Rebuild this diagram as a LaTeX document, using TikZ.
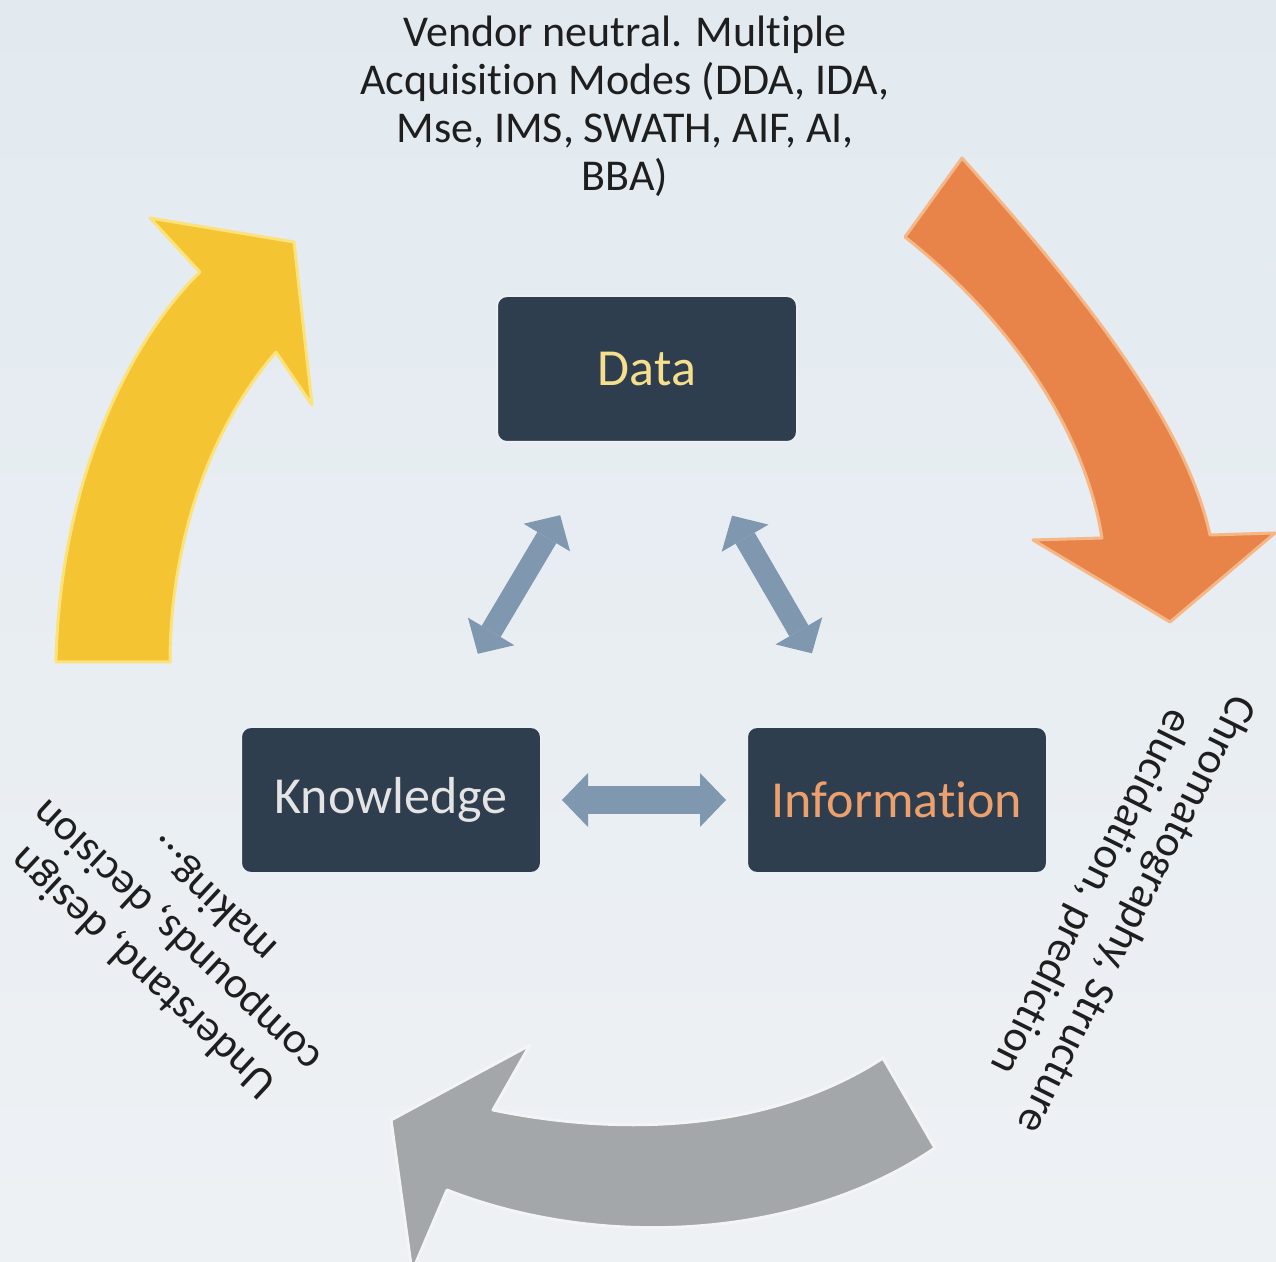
\documentclass[tikz,border=0pt]{standalone}
\usepackage{fontspec}
\setmainfont{Carlito}[Ligatures=NoCommon]
\usetikzlibrary{arrows.meta}

\definecolor{boxfill}{HTML}{2F3E4F}
\definecolor{datatxt}{HTML}{F6DF8C}
\definecolor{knowtxt}{HTML}{E4E4E4}
\definecolor{infotxt}{HTML}{EDA06C}
\definecolor{linkblue}{HTML}{7F97AF}
\definecolor{bgtop}{HTML}{E2EAF0}
\definecolor{bgbot}{HTML}{EEF1F4}
\definecolor{yelarrow}{HTML}{F4C433}
\definecolor{yeledge}{HTML}{FBE27A}
\definecolor{orarrow}{HTML}{E8844A}
\definecolor{oredge}{HTML}{F6B786}
\definecolor{grarrow}{HTML}{A4A7AA}
\definecolor{gredge}{HTML}{F2F4F6}
\definecolor{notetxt}{HTML}{1E1E1E}

\tikzset{
  stage/.style={draw=white!85!linkblue, line width=1pt, fill=boxfill, rounded corners=5pt,
    minimum width=150pt, minimum height=73pt, font=\fontsize{26pt}{30pt}\selectfont},
  note/.style={align=center, text=notetxt, font=\fontsize{22pt}{24pt}\selectfont},
  turned/.style={note, font=\fontsize{22pt}{25pt}\selectfont},
  link/.style={draw=linkblue, line width=11pt,
    arrows={Triangle[width=27pt,length=13pt,line width=0pt]-Triangle[width=27pt,length=13pt,line width=0pt]}},
  bigarrow/.style={line join=round, line width=1.5pt}
}

\begin{document}
\begin{tikzpicture}[x=0.5pt,y=-0.5pt]
  \useasboundingbox (0,0) rectangle (1276,1262);
  \shade[top color=bgtop, bottom color=bgbot] (0,0) rectangle (1276,1262);

  % cycle arrows
  \filldraw[bigarrow, fill=yelarrow, draw=yeledge]
    (56,662) .. controls (60,480) and (130,340) .. (200,272)
    -- (150,218) -- (294,242) -- (312,405) -- (276,352)
    .. controls (200,440) and (170,560) .. (170,662) -- cycle;
  \filldraw[bigarrow, fill=orarrow, draw=oredge]
    (962,158) .. controls (1080,290) and (1185,420) .. (1210,535)
    -- (1275,533) -- (1170,622) -- (1033,540) -- (1102,538)
    .. controls (1085,430) and (1010,320) .. (905,237) -- cycle;
  \filldraw[bigarrow, fill=grarrow, draw=gredge]
    (883,1058) -- (935,1148)
    .. controls (800,1240) and (600,1250) .. (447,1190)
    -- (412,1272) -- (391,1120) -- (530,1045) -- (493,1110)
    .. controls (640,1140) and (780,1125) .. (883,1058) -- cycle;

  \node[note] (acqtext) at (625,106) {Vendor neutral. Multiple\\Acquisition Modes (DDA, IDA,\\Mse, IMS, SWATH, AIF, AI,\\BBA)};
  \node[turned, rotate=-116.5] (chromtext) at (1113,903) {Chromatography, Structure\\elucidation, prediction};
  \node[turned, rotate=137] (designtext) at (178,935) {Understand, design\\compounds, decision\\making...};

  % stages
  \node[stage, text=datatxt] (data) at (647,369) {Data};
  \node[stage, text=knowtxt] (know) at (391,800) {Knowledge};
  \node[stage, text=infotxt] (info) at (897,800) {Information};

  \draw[link, shorten <=42pt, shorten >=42pt] (data) -- (know);
  \draw[link, shorten <=42pt, shorten >=42pt] (data) -- (info);
  \draw[link, line width=14pt, shorten <=10pt, shorten >=10pt] (know) -- (info);
\end{tikzpicture}
\end{document}
